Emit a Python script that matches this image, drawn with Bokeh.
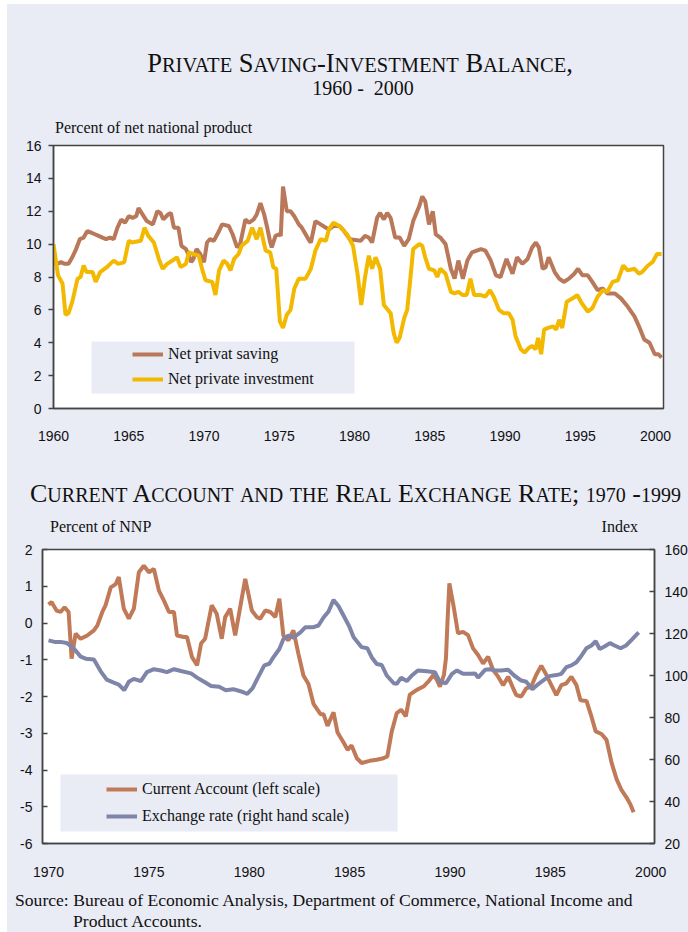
from itertools import groupby
from bokeh.plotting import figure
from bokeh.models import (Div, Range1d, LinearAxis, FixedTicker, Legend, LegendItem,
                          BoxAnnotation)
from bokeh.layouts import column
from bokeh.embed import file_html
from bokeh.resources import INLINE

BG = "#E9EBF5"
SERIF = "'Liberation Serif','Times New Roman',serif"

# ---------------- data: chart 1 (percent of NNP) ----------------
sav_year = [1960.0, 1960.25, 1960.5, 1960.75, 1961.0, 1961.25, 1961.5, 1961.75, 1962.0, 1962.25,
            1962.5, 1962.75, 1963.0, 1963.25, 1963.5, 1963.75, 1964.0, 1964.25, 1964.5, 1964.75,
            1965.0, 1965.25, 1965.5, 1965.65, 1965.85, 1966.2, 1966.6, 1966.9, 1967.1, 1967.3,
            1967.6, 1967.8, 1968.0, 1968.3, 1968.5, 1968.8, 1969.0, 1969.15, 1969.3, 1969.5,
            1969.75, 1970.0, 1970.2, 1970.4, 1970.65, 1971.0, 1971.2, 1971.65, 1971.9, 1972.2,
            1972.4, 1972.75, 1973.0, 1973.3, 1973.5, 1973.75, 1974.0, 1974.2, 1974.4, 1974.5,
            1974.75, 1975.0, 1975.1, 1975.25, 1975.5, 1975.75, 1976.0, 1976.3, 1976.5, 1976.75,
            1977.0, 1977.1, 1977.4, 1977.75, 1978.1, 1978.3, 1978.6, 1979.0, 1979.3, 1979.7,
            1980.4, 1980.7, 1980.95, 1981.17, 1981.5, 1981.7, 1981.95, 1982.17, 1982.4, 1982.7,
            1983.0, 1983.3, 1983.6, 1983.9, 1984.3, 1984.5, 1984.7, 1984.95, 1985.2, 1985.4,
            1985.7, 1986.05, 1986.4, 1986.65, 1986.9, 1987.2, 1987.5, 1987.8, 1988.4, 1988.7,
            1989.05, 1989.4, 1989.7, 1990.1, 1990.5, 1990.8, 1991.15, 1991.5, 1991.8, 1992.05,
            1992.25, 1992.5, 1992.7, 1992.9, 1993.3, 1993.6, 1993.9, 1994.25, 1994.6, 1994.85,
            1995.15, 1995.5, 1995.8, 1996.15, 1996.5, 1996.8, 1997.3, 1997.7, 1998.15, 1998.6,
            1998.9, 1999.25, 1999.6, 1999.95, 2000.2, 2000.4]
sav_val = [8.9, 8.8, 8.9, 8.8, 8.8, 9.2, 9.7, 10.3, 10.4, 10.8,
           10.7, 10.6, 10.5, 10.4, 10.3, 10.4, 10.3, 11.0, 11.5, 11.3,
           11.7, 11.6, 11.7, 12.2, 11.9, 11.4, 11.2, 12.0, 11.9, 11.5,
           11.8, 11.9, 11.0, 11.0, 9.9, 9.7, 9.3, 8.9, 9.1, 9.7,
           9.4, 8.9, 10.1, 10.3, 10.2, 10.8, 11.2, 11.1, 10.6, 9.8,
           10.0, 11.5, 11.3, 11.5, 11.8, 12.5, 11.8, 11.0, 10.1, 9.8,
           10.5, 10.6, 10.5, 13.5, 12.0, 12.0, 11.7, 11.2, 11.0, 10.6,
           10.2, 10.1, 11.4, 11.2, 11.0, 10.9, 11.1, 11.1, 10.8, 10.3,
           10.2, 10.5, 10.4, 10.1, 11.6, 11.9, 11.5, 11.9, 11.6, 10.4,
           10.4, 9.9, 10.3, 11.4, 12.3, 12.9, 12.6, 11.2, 12.0, 10.6,
           10.4, 10.0, 8.5, 7.9, 9.0, 7.9, 9.0, 9.5, 9.7, 9.6,
           9.0, 8.1, 8.0, 9.1, 8.2, 9.2, 8.8, 9.1, 9.8, 10.1,
           9.8, 8.5, 8.6, 9.2, 8.3, 7.9, 7.7, 7.9, 8.2, 8.5,
           8.1, 8.1, 7.7, 7.2, 7.3, 7.0, 7.0, 6.7, 6.2, 5.6,
           5.0, 4.2, 4.0, 3.3, 3.3, 3.1]

inv_year = [1960.0, 1960.3, 1960.6, 1960.8, 1961.0, 1961.25, 1961.6, 1961.8, 1962.0, 1962.2,
            1962.6, 1962.8, 1963.1, 1963.55, 1964.0, 1964.3, 1964.7, 1965.0, 1965.2, 1965.8,
            1966.05, 1966.3, 1966.67, 1967.0, 1967.25, 1967.55, 1967.9, 1968.2, 1968.45, 1968.8,
            1969.0, 1969.3, 1969.65, 1969.9, 1970.1, 1970.55, 1970.76, 1971.0, 1971.3, 1971.55,
            1971.76, 1972.0, 1972.3, 1972.5, 1972.9, 1973.2, 1973.5, 1973.75, 1974.1, 1974.4,
            1974.6, 1974.8, 1975.04, 1975.25, 1975.5, 1975.75, 1976.0, 1976.3, 1976.75, 1977.1,
            1977.4, 1977.75, 1978.1, 1978.3, 1978.6, 1979.0, 1979.5, 1979.9, 1980.2, 1980.45,
            1980.7, 1980.95, 1981.17, 1981.4, 1981.7, 1981.95, 1982.4, 1982.6, 1982.8, 1983.0,
            1983.3, 1983.5, 1983.7, 1983.9, 1984.3, 1984.5, 1984.7, 1984.95, 1985.3, 1985.5,
            1985.7, 1986.05, 1986.4, 1986.65, 1986.9, 1987.2, 1987.45, 1987.7, 1987.95, 1988.4,
            1988.7, 1989.0, 1989.25, 1989.6, 1989.9, 1990.25, 1990.5, 1990.7, 1991.05, 1991.3,
            1991.6, 1991.8, 1992.03, 1992.2, 1992.4, 1992.6, 1992.85, 1993.2, 1993.4, 1993.6,
            1993.8, 1994.1, 1994.5, 1994.8, 1995.1, 1995.5, 1995.8, 1996.15, 1996.5, 1996.8,
            1997.15, 1997.5, 1997.85, 1998.15, 1998.6, 1998.9, 1999.1, 1999.5, 1999.8, 2000.1,
            2000.4]
inv_val = [10.0, 8.1, 7.6, 5.7, 5.8, 6.5, 7.9, 8.0, 8.7, 8.3,
           8.3, 7.7, 8.3, 8.6, 9.0, 8.8, 8.9, 10.2, 10.1, 10.2,
           11.0, 10.5, 10.1, 9.1, 8.5, 8.8, 9.0, 9.2, 8.6, 8.8,
           9.5, 9.4, 9.3, 8.4, 7.8, 7.7, 6.9, 8.4, 9.0, 8.8,
           8.4, 9.1, 9.4, 9.9, 10.2, 11.0, 10.3, 11.0, 9.6, 9.5,
           8.6, 8.5, 5.3, 4.9, 5.7, 6.0, 7.3, 7.9, 7.9, 8.5,
           9.6, 10.3, 10.2, 10.9, 11.3, 11.1, 10.6, 9.9, 8.2, 6.3,
           8.0, 9.3, 8.5, 9.2, 8.5, 6.3, 5.8, 4.6, 4.0, 4.3,
           5.5, 6.0, 7.8, 9.7, 10.0, 9.9, 9.2, 8.5, 8.4, 8.0,
           8.5, 8.2, 7.1, 7.0, 7.1, 6.9, 6.9, 7.9, 6.9, 6.9,
           6.8, 7.2, 6.8, 6.0, 5.8, 5.8, 5.4, 4.4, 3.6, 3.4,
           3.7, 3.8, 3.6, 4.3, 3.3, 4.8, 4.9, 5.0, 4.8, 5.4,
           4.9, 6.5, 6.7, 6.9, 6.4, 5.9, 6.1, 6.8, 7.2, 7.1,
           7.7, 7.8, 8.7, 8.4, 8.5, 8.2, 8.3, 8.7, 8.9, 9.4,
           9.4]

x1_ticks = [1960, 1965, 1970, 1975, 1980, 1985, 1990, 1995, 2000]
y1_ticks = [0, 2, 4, 6, 8, 10, 12, 14, 16]

# ---------------- data: chart 2 ----------------
ca_year = [1970.0, 1970.15, 1970.4, 1970.6, 1970.8, 1971.0, 1971.15, 1971.35, 1971.6, 1971.93,
           1972.26, 1972.43, 1972.68, 1972.84, 1973.1, 1973.35, 1973.5, 1973.75, 1974.0, 1974.25,
           1974.5, 1974.75, 1975.0, 1975.25, 1975.5, 1975.75, 1976.0, 1976.25, 1976.4, 1976.74,
           1976.9, 1977.15, 1977.4, 1977.6, 1977.8, 1978.13, 1978.38, 1978.63, 1978.8, 1979.05,
           1979.3, 1979.55, 1979.8, 1980.13, 1980.38, 1980.55, 1980.8, 1981.05, 1981.3, 1981.5,
           1981.7, 1981.95, 1982.2, 1982.45, 1982.7, 1982.95, 1983.2, 1983.55, 1983.7, 1983.9,
           1984.2, 1984.4, 1984.7, 1984.9, 1985.1, 1985.36, 1985.6, 1986.0, 1986.35, 1986.68,
           1986.88, 1987.1, 1987.35, 1987.57, 1987.8, 1988.0, 1988.35, 1988.68, 1988.93, 1989.18,
           1989.35, 1989.5, 1989.7, 1989.8, 1989.87, 1989.97, 1990.17, 1990.4, 1990.65, 1990.9,
           1991.15, 1991.4, 1991.65, 1991.9, 1992.15, 1992.4, 1992.65, 1992.9, 1993.15, 1993.3,
           1993.55, 1993.8, 1994.05, 1994.3, 1994.55, 1994.8, 1995.05, 1995.3, 1995.55, 1995.8,
           1996.05, 1996.3, 1996.5, 1996.8, 1997.05, 1997.26, 1997.55, 1997.8, 1998.05, 1998.3,
           1998.55, 1998.8, 1999.0, 1999.15]
ca_val = [0.5, 0.57, 0.34, 0.30, 0.43, 0.30, -0.97, -0.29, -0.43, -0.34,
          -0.20, -0.07, 0.30, 0.48, 0.97, 1.06, 1.25, 0.39, 0.12, 0.39,
          1.38, 1.56, 1.38, 1.47, 0.88, 0.61, 0.30, 0.30, -0.34, -0.38,
          -0.38, -0.93, -1.15, -0.56, -0.43, 0.48, 0.25, -0.43, 0.16, 0.39,
          -0.34, 0.43, 1.2, 0.34, 0.16, 0.12, 0.34, 0.30, 0.16, 0.66,
          -0.34, -0.47, -0.20, -0.84, -1.43, -1.66, -2.2, -2.48, -2.48, -2.8,
          -2.43, -2.98, -3.25, -3.45, -3.33, -3.68, -3.81, -3.75, -3.72, -3.68,
          -3.63, -2.95, -2.45, -2.36, -2.54, -1.95, -1.82, -1.73, -1.59, -1.41,
          -1.55, -1.73, -1.41, -0.96, -0.05, 1.08, 0.49, -0.28, -0.24, -0.33,
          -0.69, -0.87, -1.1, -0.92, -1.28, -1.46, -1.69, -1.46, -1.78, -1.96,
          -2.0, -1.78, -1.73, -1.41, -1.16, -1.41, -1.69, -1.96, -1.69, -1.64,
          -1.46, -1.69, -2.1, -2.12, -2.55, -2.95, -3.02, -3.18, -3.8, -4.25,
          -4.55, -4.75, -4.95, -5.15]

fx_year = [1970.0, 1970.3, 1970.6, 1970.9, 1971.25, 1971.6, 1971.85, 1972.26, 1972.6, 1972.9,
           1973.25, 1973.5, 1973.77, 1974.0, 1974.25, 1974.6, 1974.9, 1975.25, 1975.6, 1975.9,
           1976.25, 1976.65, 1977.1, 1977.4, 1977.75, 1978.1, 1978.5, 1978.83, 1979.2, 1979.6,
           1979.9, 1980.17, 1980.4, 1980.75, 1981.0, 1981.2, 1981.5, 1981.7, 1981.95, 1982.2,
           1982.55, 1982.8, 1983.2, 1983.45, 1983.7, 1983.95, 1984.2, 1984.45, 1984.75, 1985.0,
           1985.2, 1985.6, 1985.88, 1986.1, 1986.35, 1986.6, 1986.85, 1987.2, 1987.35, 1987.57,
           1987.85, 1988.1, 1988.4, 1988.85, 1989.25, 1989.5, 1989.8, 1990.1, 1990.35, 1990.65,
           1991.0, 1991.25, 1991.4, 1991.75, 1992.0, 1992.25, 1992.55, 1992.9, 1993.2, 1993.55,
           1993.8, 1994.1, 1994.35, 1994.7, 1994.95, 1995.3, 1995.55, 1995.8, 1996.05, 1996.3,
           1996.55, 1996.8, 1997.05, 1997.26, 1997.46, 1997.7, 1997.97, 1998.2, 1998.5, 1998.77,
           1999.05, 1999.4]
fx_val = [116.7, 116, 116, 115.5, 113, 109, 108, 107.6, 102, 98,
          96.6, 95.7, 93, 97, 98.4, 97.3, 101.6, 103, 102.4, 101.6,
          103, 102, 101, 99, 97, 95, 94.6, 93, 93.5, 92.4,
          91.3, 94, 98.4, 104.8, 105.6, 108.6, 112.6, 117.3, 119, 118,
          120.5, 123, 123, 123.8, 127.6, 130.5, 136, 133, 127.6, 123,
          118.2, 113.5, 113, 108.7, 105.5, 105, 100, 96.3, 96, 99,
          97.3, 100, 102.4, 102, 101.6, 97, 96.3, 100.8, 102.4, 100.8,
          100.8, 101, 99, 102.7, 103, 102.4, 102.4, 102.7, 100, 97.6,
          97, 93.4, 95.5, 98, 99.7, 100.2, 100.8, 104, 104.8, 106.3,
          109.4, 113, 114.3, 116.3, 112.6, 113.8, 115.4, 114.3, 113, 114.3,
          117, 120.5]

x2_ticks = [1970, 1975, 1980, 1985, 1990, 1995, 2000]
x2_labels = ["1970", "1975", "1980", "1985", "1990", "1985", "2000"]
y2_ticks = [-6, -5, -4, -3, -2, -1, 0, 1, 2]
y2_labels = ["-6", "-5", "-4", "-3", "-2", "-1", "0", "1", "2"]
y2r_ticks = [20, 40, 60, 80, 100, 120, 140, 160]

C_SAV = "#B9785A"
C_INV = "#F2B900"
C_CA = "#C17A58"
C_FX = "#7F85A8"
AXC = "#444444"


def small_caps(text, small):
    """Lowercase letters and digits are shown as smaller capitals."""
    parts = []
    key = lambda c: c.islower() or c.isdigit()
    for is_small, grp in groupby(text, key=key):
        s = "".join(grp)
        if is_small:
            parts.append(f'<span style="font-size:{small}px;text-transform:uppercase">{s}</span>')
        else:
            parts.append(s)
    return "".join(parts)


def style_axes(p):
    p.grid.visible = False
    p.outline_line_color = AXC
    p.outline_line_width = 1.5
    for ax in p.axis:
        ax.axis_line_color = AXC
        ax.axis_line_width = 1.5
        ax.major_tick_line_color = AXC
        ax.major_tick_line_width = 1.5
        ax.minor_tick_line_color = None
        ax.major_label_text_font = "Liberation Sans"
        ax.major_label_text_font_size = "14px"
        ax.major_label_text_color = "#111111"


W = 681

# ---------------- header div ----------------
title1 = small_caps("Private Saving-Investment Balance,", 20.5)
divA = Div(width=W, height=133, margin=0, styles={"background-color": BG},
           text=f'''<div style="position:relative;width:{W}px;height:133px;font-family:{SERIF};color:#111;">
<div style="position:absolute;left:0;top:44px;width:706px;text-align:center;white-space:nowrap;font-size:26.5px;line-height:30px;">{title1}</div>
<div style="position:absolute;left:0;top:72px;width:712px;text-align:center;white-space:pre;font-size:20px;line-height:24px;">1960 -  2000</div>
<div style="position:absolute;left:48px;top:114px;white-space:nowrap;font-size:16px;line-height:19px;">Percent of net national product</div>
</div>''')

# ---------------- chart 1 ----------------
p1 = figure(frame_width=610, frame_height=263, x_range=Range1d(1960, 2000.53), y_range=Range1d(0, 16),
            output_backend="svg", toolbar_location=None, frame_align=False,
            min_border_left=46, min_border_right=25, min_border_top=8, min_border_bottom=47,
            background_fill_color="white", border_fill_color=BG)
style_axes(p1)
p1.xaxis.ticker = FixedTicker(ticks=x1_ticks)
p1.yaxis.ticker = FixedTicker(ticks=y1_ticks)
p1.xaxis.major_tick_line_color = None
p1.xaxis.major_label_standoff = 16
p1.yaxis.major_tick_in = 0
p1.yaxis.major_tick_out = 5
p1.yaxis.major_label_standoff = 7

p1.add_layout(BoxAnnotation(left=38, right=301, bottom=15, top=67,
                            left_units="screen", right_units="screen",
                            top_units="screen", bottom_units="screen",
                            fill_color=BG, fill_alpha=1.0, line_alpha=0, level="underlay"))
r_sav = p1.line(sav_year, sav_val, line_color=C_SAV, line_width=4)
r_inv = p1.line(inv_year, inv_val, line_color=C_INV, line_width=4)
leg1 = Legend(items=[LegendItem(label="Net privat saving", renderers=[r_sav]),
                     LegendItem(label="Net private investment", renderers=[r_inv])],
              location=(79, 19), padding=0, spacing=5, margin=0, label_standoff=5,
              glyph_width=31, glyph_height=20, label_height=20,
              background_fill_alpha=0, border_line_alpha=0,
              label_text_font="Liberation Serif", label_text_font_size="16px",
              label_text_color="#111111")
p1.add_layout(leg1)

# ---------------- middle div ----------------
title2 = small_caps("Current Account and the Real Exchange Rate; 1970 -1999", 20)
divB = Div(width=W, height=85, margin=0, styles={"background-color": BG},
           text=f'''<div style="position:relative;width:{W}px;height:85px;font-family:{SERIF};color:#111;">
<div style="position:absolute;left:23px;top:24px;white-space:nowrap;font-size:26px;line-height:30px;">{title2}</div>
<div style="position:absolute;left:43px;top:62px;white-space:nowrap;font-size:16px;line-height:19px;">Percent of NNP</div>
<div style="position:absolute;right:50px;top:62px;white-space:nowrap;font-size:16px;line-height:19px;">Index</div>
</div>''')

# ---------------- chart 2 ----------------
p2 = figure(frame_width=612, frame_height=294, x_range=Range1d(1969.7, 2000.19), y_range=Range1d(-6, 2),
            output_backend="svg", toolbar_location=None, frame_align=False,
            min_border_left=35, min_border_right=34, min_border_top=9, min_border_bottom=37,
            background_fill_color="white", border_fill_color=BG)
p2.extra_y_ranges = {"idx": Range1d(20, 160)}
ax_r = LinearAxis(y_range_name="idx", ticker=FixedTicker(ticks=y2r_ticks))
p2.add_layout(ax_r, "right")
style_axes(p2)
p2.xaxis.ticker = FixedTicker(ticks=x2_ticks)
p2.xaxis.major_label_overrides = {t: l for t, l in zip(x2_ticks, x2_labels)}
p2.xaxis.major_tick_line_color = None
p2.xaxis.major_label_standoff = 17
for ax in p2.yaxis:
    ax.major_tick_in = 5
    ax.major_tick_out = 0
    ax.major_label_standoff = 10
p2.yaxis[0].ticker = FixedTicker(ticks=y2_ticks)
p2.yaxis[0].major_label_overrides = {t: l for t, l in zip(y2_ticks, y2_labels)}

p2.add_layout(BoxAnnotation(left=18, right=355, bottom=12, top=69,
                            left_units="screen", right_units="screen",
                            top_units="screen", bottom_units="screen",
                            fill_color=BG, fill_alpha=1.0, line_alpha=0, level="underlay"))
r_ca = p2.line(ca_year, ca_val, line_color=C_CA, line_width=4)
r_fx = p2.line(fx_year, fx_val, line_color=C_FX, line_width=4, y_range_name="idx")
leg2 = Legend(items=[LegendItem(label="Current Account (left scale)", renderers=[r_ca]),
                     LegendItem(label="Exchange rate (right hand scale)", renderers=[r_fx])],
              location=(64, 17), padding=0, spacing=7, margin=0, label_standoff=5,
              glyph_width=31, glyph_height=20, label_height=20,
              background_fill_alpha=0, border_line_alpha=0,
              label_text_font="Liberation Serif", label_text_font_size="16px",
              label_text_color="#111111")
p2.add_layout(leg2)

# ---------------- source div ----------------
divC = Div(width=W, height=52, margin=0, styles={"background-color": BG},
           text=f'''<div style="position:relative;width:{W}px;height:52px;font-family:{SERIF};color:#111;font-size:17.6px;line-height:21px;">
<div style="position:absolute;left:8px;top:10px;white-space:nowrap;">Source: Bureau of Economic Analysis, Department of Commerce, National Income and</div>
<div style="position:absolute;left:66px;top:31px;white-space:nowrap;">Product Accounts.</div>
</div>''')

layout = column(divA, p1, divB, p2, divC, spacing=0, margin=(4, 0, 0, 7),
                styles={"background-color": BG})
open("out.html", "w").write(file_html(layout, INLINE))
